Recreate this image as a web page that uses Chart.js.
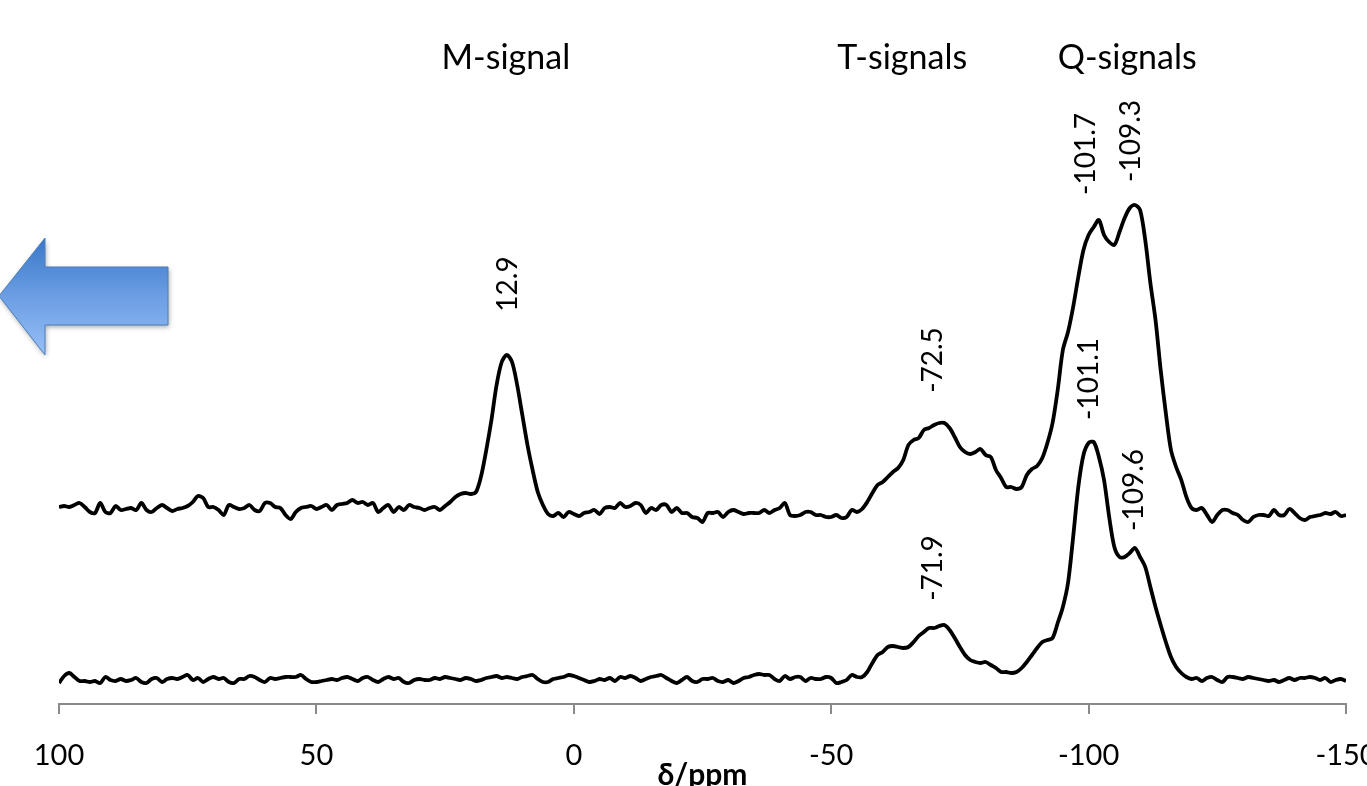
<!DOCTYPE html>
<html><head><meta charset="utf-8">
<script src="https://cdn.jsdelivr.net/npm/chart.js@4.4.1/dist/chart.umd.min.js"></script>
<style>html,body{margin:0;padding:0;background:#fff;overflow:hidden}#wrap{position:relative;width:1367px;height:786px}</style>
</head><body><div id="wrap"><canvas id="c" width="1367" height="786"></canvas></div>
<script>
// chemical shift positions (ppm)
const ppm = [100,99,98,97,96,95,94,93,92,91,90,89,88,87,86,85,84,83,82,81,80,79,78,77,76,
75,74,73,72,71,70,69,68,67,66,65,64,63,62,61,60,59,58,57,56,55,54,53,52,51,
50,49,48,47,46,45,44,43,42,41,40,39,38,37,36,35,34,33,32,31,30,29,28,27,26,
25,24,23,22,21,20,19,18,17,16,15,14,13,12,11,10,9,8,7,6,5,4,3,2,1,
0,-1,-2,-3,-4,-5,-6,-7,-8,-9,-10,-11,-12,-13,-14,-15,-16,-17,-18,-19,-20,-21,-22,-23,-24,
-25,-26,-27,-28,-29,-30,-31,-32,-33,-34,-35,-36,-37,-38,-39,-40,-41,-42,-43,-44,-45,-46,-47,-48,-49,
-50,-51,-52,-53,-54,-55,-56,-57,-58,-59,-60,-61,-62,-63,-64,-65,-66,-67,-68,-69,-70,-71,-72,-73,-74,
-75,-76,-77,-78,-79,-80,-81,-82,-83,-84,-85,-86,-87,-88,-89,-90,-91,-92,-93,-94,-95,-96,-97,-98,-99,
-100,-101,-102,-103,-104,-105,-106,-107,-108,-109,-110,-111,-112,-113,-114,-115,-116,-117,-118,-119,-120,-121,-122,-123,-124,
-125,-126,-127,-128,-129,-130,-131,-132,-133,-134,-135,-136,-137,-138,-139,-140,-141,-142,-143,-144,-145,-146,-147,-148,-149,-150];

// upper spectrum intensity (relative to its own baseline)
const upperSpectrum = [5,6,5,7,9,5,0,-1,9,0,-1,6,2,3,4,2,9,2,0,4,7,4,1,3,4,
6,10,16,14,5,5,2,-3,7,5,3,4,7,2,1,9,9,5,4,-3,-7,0,4,5,6,
3,5,7,2,7,8,9,12,9,10,7,9,0,4,7,0,5,2,7,5,4,2,4,5,2,
6,10,15,18,19,18,20,36,62,92,127,150,157,150,127,97,67,42,20,7,-2,-4,-1,-5,0,
-2,-4,-1,0,2,-2,4,5,4,9,5,6,9,7,-1,4,2,7,7,0,4,-1,-1,-5,-6,
-10,-1,-1,0,-5,0,2,0,-2,-1,-1,-1,2,-1,2,4,9,-3,-4,-3,0,0,-3,-3,-5,
-5,-3,-6,-5,2,0,3,10,19,27,30,35,40,44,52,67,72,74,82,84,87,89,89,84,75,
65,60,58,60,63,57,55,42,34,25,25,23,25,37,43,46,54,69,89,122,162,180,205,235,262,
277,285,292,277,270,267,280,294,304,307,302,272,229,192,142,99,62,45,32,15,4,2,4,-3,-10,
-3,2,2,-1,-3,-8,-10,-5,-3,-3,-4,2,-3,-3,3,-1,-6,-8,-5,-4,-3,-1,-2,0,-4,-3];

// lower spectrum intensity
const lowerSpectrum = [-3,4,7,3,-1,-1,-2,-1,-3,3,0,-1,1,-1,0,2,-2,-3,1,2,-2,1,2,1,3,
5,0,2,-2,1,3,1,2,-2,-3,1,1,4,3,0,-2,2,1,2,3,3,3,5,1,-2,
-2,-1,0,1,0,2,3,1,-1,2,3,0,-2,1,3,1,2,-2,-3,0,1,0,0,2,1,
3,2,1,0,2,1,-1,0,2,3,4,2,3,2,1,3,4,5,1,-2,-2,1,2,3,5,
4,2,0,-2,-1,1,0,2,-1,3,2,4,2,-1,1,3,4,5,2,-1,-3,0,3,-1,-2,
1,1,2,-1,-2,0,-3,-1,2,3,5,6,5,5,1,-1,4,1,3,3,-1,2,1,1,3,
2,-3,-2,0,5,3,3,8,17,25,28,33,34,33,32,33,38,44,48,52,52,54,55,50,42,
33,25,20,18,17,18,15,12,8,8,7,8,12,18,25,32,38,40,42,57,73,97,143,193,225,
237,238,223,200,163,133,123,123,127,132,123,113,93,73,55,38,23,13,7,3,1,2,-1,2,3,
0,-2,3,3,2,1,3,2,1,0,-1,0,-2,0,2,0,2,2,3,2,0,2,-2,0,1,-1];

const upperOffset = 168;   // vertical stacking offset of the upper spectrum
const xTicks = [100, 50, 0, -50, -100, -150];

const peakLabels   = ['12.9', '-101.7', '-109.3', '-72.5', '-101.1', '-109.6', '-71.9'];
const peakLabelPpm = [12.8, -99.5, -108.2, -69.8, -100.1, -108.8, -69.8];
const peakLabelY   = [396, 526, 539, 320, 301, 190, 112];

const groupLabels   = ['M-signal', 'T-signals', 'Q-signals'];
const groupLabelPpm = [13.2, -63.8, -107.5];
const groupLabelY   = 611;

const upperData = ppm.map((p, i) => ({x: p, y: upperSpectrum[i] + upperOffset}));
const lowerData = ppm.map((p, i) => ({x: p, y: lowerSpectrum[i]}));

const annotationPlugin = {
  id: 'annot',
  afterDraw(chart) {
    const ctx = chart.ctx, xs = chart.scales.x, ys = chart.scales.y;
    ctx.save();
    ctx.fillStyle = '#000';
    // group headers
    ctx.font = '34px Lato';
    ctx.textAlign = 'center';
    ctx.textBaseline = 'alphabetic';
    groupLabels.forEach((t, i) => {
      ctx.fillText(t, xs.getPixelForValue(groupLabelPpm[i]), ys.getPixelForValue(groupLabelY));
    });
    // rotated peak labels
    ctx.font = '28px Lato';
    ctx.textBaseline = 'middle';
    peakLabels.forEach((t, i) => {
      ctx.save();
      ctx.translate(xs.getPixelForValue(peakLabelPpm[i]), ys.getPixelForValue(peakLabelY[i]));
      ctx.rotate(-Math.PI / 2);
      ctx.fillText(t, 0, 0);
      ctx.restore();
    });
    ctx.restore();

    // left arrow
    ctx.save();
    const path = new Path2D();
    path.moveTo(-1, 296);
    path.lineTo(45, 238);
    path.lineTo(45, 267);
    path.lineTo(168, 267);
    path.lineTo(168, 325);
    path.lineTo(45, 325);
    path.lineTo(45, 355);
    path.closePath();
    const g = ctx.createLinearGradient(0, 238, 0, 355);
    g.addColorStop(0, '#3A77C8');
    g.addColorStop(0.5, '#6B9EE3');
    g.addColorStop(1, '#97BFF7');
    ctx.shadowColor = 'rgba(0,0,0,0.35)';
    ctx.shadowBlur = 5;
    ctx.shadowOffsetX = 1;
    ctx.shadowOffsetY = 2;
    ctx.fillStyle = g;
    ctx.fill(path);
    ctx.shadowColor = 'transparent';
    ctx.strokeStyle = '#4A7EBB';
    ctx.lineWidth = 1;
    ctx.stroke(path);
    ctx.restore();
  }
};

function draw() {
  new Chart(document.getElementById('c'), {
    type: 'line',
    data: {
      datasets: [
        {data: upperData, borderColor: '#000', borderWidth: 3.8, pointRadius: 0, tension: 0.3, fill: false},
        {data: lowerData, borderColor: '#000', borderWidth: 3.8, pointRadius: 0, tension: 0.3, fill: false}
      ]
    },
    options: {
      responsive: false,
      animation: false,
      devicePixelRatio: 1,
      layout: {padding: {left: 59, right: 21, top: 0, bottom: 0}, autoPadding: false},
      plugins: {legend: {display: false}, tooltip: {enabled: false}},
      scales: {
        x: {
          type: 'linear', min: -150, max: 100, reverse: true,
          afterFit(s) { s.height = 82; s.paddingLeft = 0; s.paddingRight = 0; },
          afterBuildTicks(s) { s.ticks = xTicks.map(v => ({value: v})); },
          grid: {drawOnChartArea: false, drawTicks: true, tickLength: 10, color: '#8a8a8a', lineWidth: 2},
          border: {display: true, color: '#8a8a8a', width: 2},
          ticks: {font: {family: 'Lato', size: 29}, color: '#000', padding: 24, maxRotation: 0, autoSkip: false},
          title: {display: true, text: 'δ/ppm', color: '#000', font: {family: 'Lato', size: 30, weight: 'bold'}, padding: {top: 0, bottom: -7}}
        },
        y: {display: false, min: -24, max: 680}
      }
    },
    plugins: [annotationPlugin]
  });
}
if (document.fonts && document.fonts.load) {
  Promise.all([document.fonts.load('29px Lato'), document.fonts.load('bold 30px Lato')]).then(draw, draw);
} else { draw(); }
</script>
</body></html>
